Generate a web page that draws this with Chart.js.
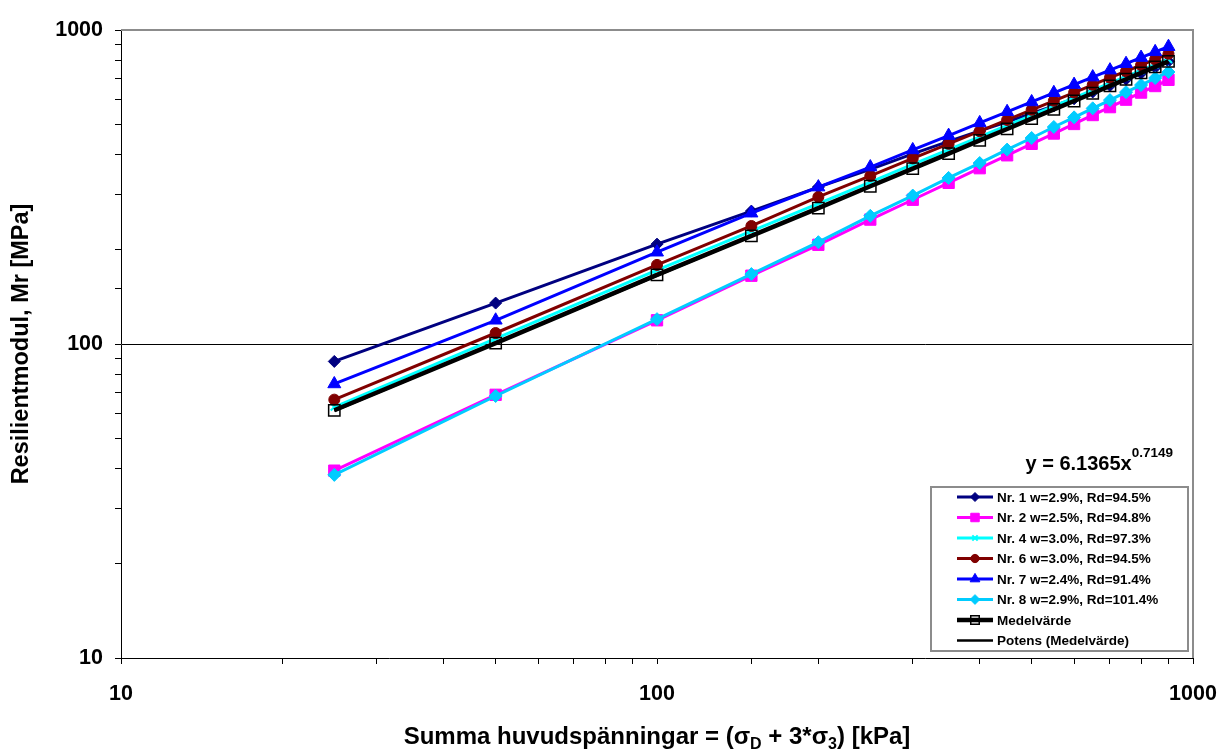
<!DOCTYPE html>
<html>
<head>
<meta charset="utf-8">
<script src="https://cdn.jsdelivr.net/npm/chart.js@4.4.1/dist/chart.umd.min.js"></script>
<style>
  body { margin: 0; background: #fff; }
  #wrap { width: 1223px; height: 749px; }
</style>
</head>
<body>
<div id="wrap"><canvas id="mrChart" width="1223" height="749"></canvas></div>
<script>
// stress sum [kPa]
var sigmaSum = [25, 50, 100, 150, 200, 250, 300, 350, 400, 450, 500, 550, 600, 650, 700, 750, 800, 850, 900];

// resilient modulus [MPa] per sample
var nr1 = [88, 135, 208, 265, 316, 360, 403, 442, 477, 510, 542, 573, 604, 635, 666, 697, 728, 760, 795];
var nr2 = [39.5, 68.9, 119, 165, 207, 249, 288, 326, 363, 399, 434, 468, 502, 536, 568, 600, 632, 663, 694];
var nr4 = [63, 104, 172, 229, 280, 328, 373, 416, 457, 497, 535, 572, 608, 643, 677, 710, 743, 775, 806];
var nr6 = [66.5, 108.4, 178.6, 237.6, 294, 343, 390, 434, 476, 517, 557, 595, 632, 669, 705, 739, 773, 806, 840];
var nr7 = [74.6, 119, 196, 261, 316, 366, 415, 461, 506, 549, 590, 631, 670, 708, 745, 781, 817, 852, 885];
var nr8 = [38.3, 68.3, 120, 167, 211, 256, 297, 338, 377, 416, 453, 491, 527, 563, 598, 634, 668, 703, 735];
var medel = [61.5, 100.6, 166, 221, 271, 318, 362, 404, 445, 484, 522, 559, 594, 629, 664, 697, 730, 763, 794];

// power trendline end points (y = 6.1365x^0.7149)
var trendX = [25, 900];
var trendY = [61.3, 794.3];

var seriesNames = [
  "Nr. 1 w=2.9%, Rd=94.5%",
  "Nr. 2 w=2.5%, Rd=94.8%",
  "Nr. 4 w=3.0%, Rd=97.3%",
  "Nr. 6 w=3.0%, Rd=94.5%",
  "Nr. 7 w=2.4%, Rd=91.4%",
  "Nr. 8 w=2.9%, Rd=101.4%",
  "Medelvärde",
  "Potens (Medelvärde)"
];

var FONT = "'Liberation Sans', Arial, sans-serif";

function pts(xs, ys) {
  return xs.map(function (x, i) { return { x: x, y: ys[i] }; });
}

function isDecade(v) {
  var l = Math.log10(v);
  return Math.abs(l - Math.round(l)) < 1e-9;
}

function makeSet(i, ys, color, style, radius, extra) {
  var ds = {
    label: seriesNames[i],
    data: pts(sigmaSum, ys),
    borderColor: color,
    backgroundColor: color,
    borderWidth: 3,
    pointStyle: style,
    pointRadius: radius,
    pointHoverRadius: radius,
    pointBorderWidth: 1,
    pointBorderColor: color,
    pointBackgroundColor: color,
    order: 10 - i
  };
  for (var k in extra) ds[k] = extra[k];
  return ds;
}

var datasets = [
  makeSet(0, nr1, "#000080", "rectRot", 6, {}),
  makeSet(1, nr2, "#ff00ff", "rect", 8, {}),
  makeSet(2, nr4, "#00ffff", "crossRot", 5, { pointBorderWidth: 2 }),
  makeSet(3, nr6, "#800000", "circle", 5.5, {}),
  makeSet(4, nr7, "#0000ff", "triangle", 7.5, {}),
  makeSet(5, nr8, "#00ccff", "rectRot", 6.5, {}),
  makeSet(6, medel, "#000000", "rect", 8, {
    borderWidth: 4.5,
    pointBackgroundColor: "rgba(0,0,0,0)",
    pointBorderWidth: 1.5
  }),
  {
    label: seriesNames[7],
    data: pts(trendX, trendY),
    borderColor: "#000000",
    borderWidth: 2.5,
    pointRadius: 0,
    order: 0
  }
];

// titles, equation, legend and frame
var decorPlugin = {
  id: "decor",
  afterDraw: function (chart) {
    var ctx = chart.ctx;
    var a = chart.chartArea;
    ctx.save();

    // gray frame top/right
    ctx.strokeStyle = "#8c8c8c";
    ctx.lineWidth = 2;
    ctx.beginPath();
    ctx.moveTo(a.left, a.top);
    ctx.lineTo(a.right, a.top);
    ctx.lineTo(a.right, a.bottom);
    ctx.stroke();

    // y title
    ctx.fillStyle = "#000";
    ctx.font = "bold 23.5px " + FONT;
    ctx.textAlign = "center";
    ctx.textBaseline = "middle";
    ctx.save();
    ctx.translate(22, 344);
    ctx.rotate(-Math.PI / 2);
    ctx.fillText("Resilientmodul, Mr [MPa]", 0, 0);
    ctx.restore();

    // x title with subscripts
    var parts = [
      ["Summa huvudspänningar = (σ", 0],
      ["D", 1],
      [" + 3*σ", 0],
      ["3", 1],
      [") [kPa]", 0]
    ];
    var bigF = "bold 24px " + FONT, subF = "bold 16px " + FONT;
    var total = 0;
    parts.forEach(function (p) {
      ctx.font = p[1] ? subF : bigF;
      total += ctx.measureText(p[0]).width;
    });
    var x = 657 - total / 2;
    ctx.textAlign = "left";
    ctx.textBaseline = "alphabetic";
    parts.forEach(function (p) {
      ctx.font = p[1] ? subF : bigF;
      ctx.fillText(p[0], x, p[1] ? 749 : 744);
      x += ctx.measureText(p[0]).width;
    });

    // equation
    var eq = "y = 6.1365x", sup = "0.7149";
    ctx.font = "bold 13.5px " + FONT;
    var supW = ctx.measureText(sup).width;
    ctx.font = "bold 20px " + FONT;
    var eqW = ctx.measureText(eq).width;
    var ex = 1173 - supW - eqW;
    ctx.fillText(eq, ex, 470);
    ctx.font = "bold 13.5px " + FONT;
    ctx.fillText(sup, ex + eqW, 457);

    // legend box
    var lx = 931, ly = 487, lw = 257, lh = 164;
    ctx.fillStyle = "#fff";
    ctx.fillRect(lx, ly, lw, lh);
    ctx.strokeStyle = "#8c8c8c";
    ctx.lineWidth = 2;
    ctx.strokeRect(lx, ly, lw, lh);

    ctx.font = "bold 13.5px " + FONT;
    ctx.textBaseline = "middle";
    chart.data.datasets.forEach(function (ds, i) {
      var ry = 497 + i * 20.5;
      ctx.strokeStyle = ds.borderColor;
      ctx.lineWidth = ds.borderWidth;
      ctx.beginPath();
      ctx.moveTo(957, ry);
      ctx.lineTo(993, ry);
      ctx.stroke();
      if (ds.pointRadius > 0 && Chart.helpers && Chart.helpers.drawPoint) {
        ctx.fillStyle = ds.pointBackgroundColor;
        ctx.strokeStyle = ds.pointBorderColor;
        ctx.lineWidth = ds.pointBorderWidth;
        Chart.helpers.drawPoint(ctx, {
          pointStyle: ds.pointStyle,
          radius: ds.pointRadius * 0.75,
          rotation: 0,
          borderWidth: ds.pointBorderWidth
        }, 975, ry);
      }
      ctx.fillStyle = "#000";
      ctx.fillText(ds.label, 997, ry + 1);
    });

    ctx.restore();
  }
};

var logTicks = {
  autoSkip: false,
  maxRotation: 0,
  color: "#000",
  font: { family: FONT, size: 21.5, weight: "bold" },
  callback: function (value) {
    return isDecade(value) ? String(Math.round(value)) : "";
  }
};

var mrChart = new Chart(document.getElementById("mrChart").getContext("2d"), {
  type: "line",
  data: { datasets: datasets },
  options: {
    responsive: false,
    animation: false,
    events: [],
    layout: { padding: { left: 0, right: 30, top: 30, bottom: 0 } },
    plugins: {
      legend: { display: false },
      tooltip: { enabled: false }
    },
    scales: {
      x: {
        type: "logarithmic",
        min: 10,
        max: 1000,
        afterFit: function (scale) {
          scale.height = 91;
          scale.paddingLeft = 0;
          scale.paddingRight = 0;
        },
        ticks: Object.assign({}, logTicks, { padding: 17 }),
        grid: {
          color: "rgba(0,0,0,0)",
          tickColor: "#000",
          tickLength: 6,
          lineWidth: 1
        },
        border: { color: "#000", width: 1 }
      },
      y: {
        type: "logarithmic",
        min: 10,
        max: 1000,
        afterFit: function (scale) {
          scale.width = 121;
          scale.paddingTop = 0;
          scale.paddingBottom = 0;
        },
        ticks: Object.assign({}, logTicks, { padding: 12 }),
        grid: {
          color: function (c) {
            return c.tick && Math.abs(c.tick.value - 100) < 1e-6 ? "#000" : "rgba(0,0,0,0)";
          },
          tickColor: "#000",
          tickLength: 6,
          lineWidth: 1
        },
        border: { color: "#000", width: 1 }
      }
    }
  },
  plugins: [decorPlugin]
});
</script>
</body>
</html>
